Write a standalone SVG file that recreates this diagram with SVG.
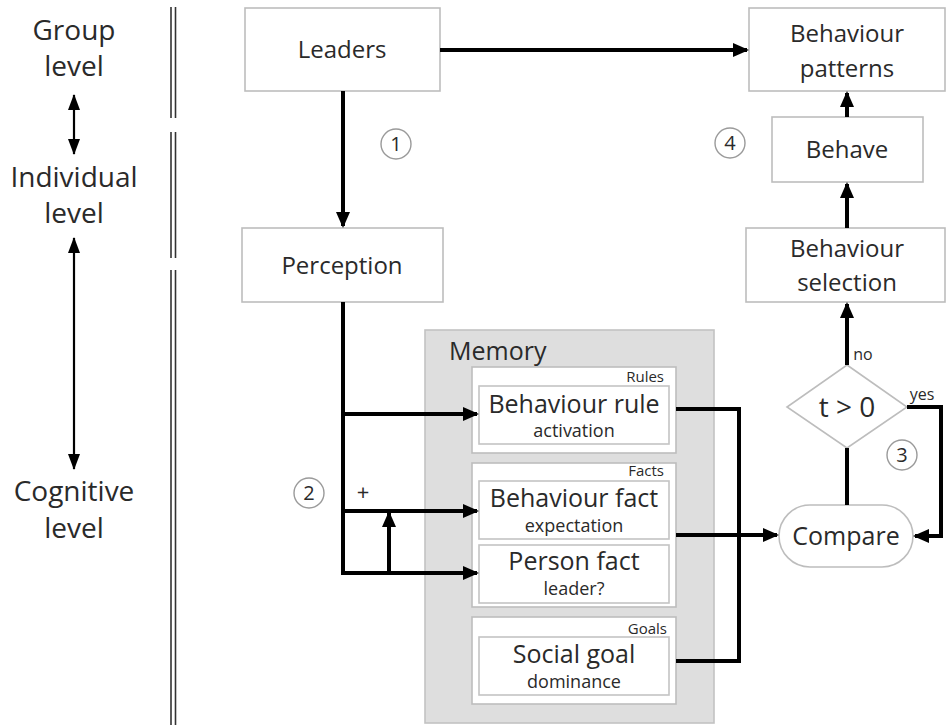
<svg xmlns="http://www.w3.org/2000/svg" width="948" height="725" viewBox="0 0 948 725">
  <defs>
    <marker id="arr" viewBox="0 0 16 14" refX="14" refY="7" markerWidth="16" markerHeight="14" markerUnits="userSpaceOnUse" orient="auto">
      <path d="M0,0 L16,7 L0,14 z" fill="#000"/>
    </marker>
    <marker id="arrS" viewBox="0 0 16 12" refX="15" refY="6" markerWidth="16" markerHeight="12" markerUnits="userSpaceOnUse" orient="auto-start-reverse">
      <path d="M0,0 L16,6 L0,12 z" fill="#000"/>
    </marker>
    <style>
      text { font-family: "Open Sans", "Noto Sans", "DejaVu Sans", sans-serif; fill: #2a2a2a; text-anchor: middle; }
      .box { fill: #fff; stroke: #bdbdbd; stroke-width: 1.6; }
      .inner { fill: #fff; stroke: #c4c4c4; stroke-width: 1.6; }
      .mem { fill: #dedede; stroke: #c2c2c2; stroke-width: 1.6; }
      .lvl { font-size: 28px; }
      .lbl { font-size: 24px; }
      .big { font-size: 25px; }
      .sub { font-size: 18px; }
      .tag { font-size: 15px; text-anchor: end; }
      .num { font-size: 20px; }
      .ring { fill: #fff; stroke: #9a9a9a; stroke-width: 1.4; }
      .wire { fill: none; stroke: #000; stroke-width: 4; }
      .bar { stroke: #333; stroke-width: 1.6; }
      .lvarrow { fill: none; stroke: #000; stroke-width: 2.2; }
    </style>
  </defs>

  <!-- level labels and separators -->
  <g id="levels">
    <text class="lvl" x="74" y="40">Group</text>
    <text class="lvl" x="74" y="76">level</text>
    <text class="lvl" x="74" y="187">Individual</text>
    <text class="lvl" x="74" y="223">level</text>
    <text class="lvl" x="74" y="501">Cognitive</text>
    <text class="lvl" x="74" y="538">level</text>
    <line class="lvarrow" x1="74" y1="95" x2="74" y2="154" marker-start="url(#arrS)" marker-end="url(#arrS)"/>
    <line class="lvarrow" x1="74" y1="238" x2="74" y2="469" marker-start="url(#arrS)" marker-end="url(#arrS)"/>
    <line class="bar" x1="171" y1="7" x2="171" y2="118"/>
    <line class="bar" x1="175.5" y1="7" x2="175.5" y2="118"/>
    <line class="bar" x1="171" y1="132" x2="171" y2="258"/>
    <line class="bar" x1="175.5" y1="132" x2="175.5" y2="258"/>
    <line class="bar" x1="171" y1="270" x2="171" y2="725"/>
    <line class="bar" x1="175.5" y1="270" x2="175.5" y2="725"/>
  </g>

  <!-- memory container -->
  <g id="memory">
    <rect class="mem" x="425" y="330" width="289" height="393"/>
    <text x="449" y="360" style="font-size:25px;text-anchor:start">Memory</text>
  </g>

  <g id="rules">
    <rect class="box" x="472" y="367" width="204" height="86"/>
    <text class="tag" x="664" y="382">Rules</text>
  </g>
  <g id="behaviour-rule">
    <rect class="inner" x="479" y="386" width="190" height="58"/>
    <text class="big" x="574" y="413">Behaviour rule</text>
    <text class="sub" x="574" y="437">activation</text>
  </g>

  <g id="facts">
    <rect class="box" x="472" y="463" width="204" height="144"/>
    <text class="tag" x="664" y="476">Facts</text>
  </g>
  <g id="behaviour-fact">
    <rect class="inner" x="479" y="481" width="190" height="58"/>
    <text class="big" x="574" y="507">Behaviour fact</text>
    <text class="sub" x="574" y="532">expectation</text>
  </g>
  <g id="person-fact">
    <rect class="inner" x="479" y="545" width="190" height="58"/>
    <text class="big" x="574" y="570">Person fact</text>
    <text class="sub" x="574" y="595">leader?</text>
  </g>

  <g id="goals">
    <rect class="box" x="472" y="617" width="204" height="87"/>
    <text class="tag" x="667" y="634">Goals</text>
  </g>
  <g id="social-goal">
    <rect class="inner" x="479" y="637" width="190" height="58"/>
    <text class="big" x="574" y="663">Social goal</text>
    <text class="sub" x="574" y="688">dominance</text>
  </g>

  <!-- upper nodes -->
  <g id="leaders">
    <rect class="box" x="245" y="8" width="195" height="83"/>
    <text class="lbl" x="342" y="58">Leaders</text>
  </g>
  <g id="perception">
    <rect class="box" x="242" y="228" width="201" height="74"/>
    <text class="lbl" x="342" y="274">Perception</text>
  </g>
  <g id="behaviour-patterns">
    <rect class="box" x="749" y="8" width="196" height="83"/>
    <text class="lbl" x="847" y="42">Behaviour</text>
    <text class="lbl" x="847" y="77">patterns</text>
  </g>
  <g id="behave">
    <rect class="box" x="772" y="117" width="151" height="65"/>
    <text class="lbl" x="847" y="158">Behave</text>
  </g>
  <g id="behaviour-selection">
    <rect class="box" x="746" y="228" width="199" height="74"/>
    <text class="lbl" x="847" y="257">Behaviour</text>
    <text class="lbl" x="847" y="291">selection</text>
  </g>
  <g id="threshold">
    <polygon points="847,365 907,407 847,448 787,407" fill="#fff" stroke="#bdbdbd" stroke-width="1.6"/>
    <text x="847" y="417" style="font-size:28px">t &gt; 0</text>
  </g>
  <g id="compare">
    <rect class="box" x="779" y="505" width="134" height="62" rx="31"/>
    <text x="846" y="545" style="font-size:25px">Compare</text>
  </g>

  <!-- step markers -->
  <g id="step1"><circle class="ring" cx="396" cy="144" r="15"/><text class="num" x="396" y="151">1</text></g>
  <g id="step2"><circle class="ring" cx="309" cy="493" r="15"/><text class="num" x="309" y="500">2</text></g>
  <g id="step3"><circle class="ring" cx="902" cy="455" r="15"/><text class="num" x="902" y="462">3</text></g>
  <g id="step4"><circle class="ring" cx="730" cy="143" r="15"/><text class="num" x="730" y="150">4</text></g>

  <!-- connectors -->
  <g id="connectors">
    <path class="wire" d="M440,50 H747" marker-end="url(#arr)"/>
    <path class="wire" d="M343,91 V226" marker-end="url(#arr)"/>
    <path class="wire" d="M847,117 V93" marker-end="url(#arr)"/>
    <path class="wire" d="M847,228 V184" marker-end="url(#arr)"/>
    <path class="wire" d="M847,365 V304" marker-end="url(#arr)"/>
    <path class="wire" d="M847,448 V505"/>
    <path class="wire" d="M907,407 H941 V536 H915" marker-end="url(#arr)"/>
    <path class="wire" d="M343,302 V573 H477" marker-end="url(#arr)"/>
    <path class="wire" d="M343,414 H477" marker-end="url(#arr)"/>
    <path class="wire" d="M343,511 H477" marker-end="url(#arr)"/>
    <path class="wire" d="M389,573 V513" marker-end="url(#arr)"/>
    <path class="wire" d="M676,409 H739 V661 H676"/>
    <path class="wire" d="M676,535 H777" marker-end="url(#arr)"/>
    <text x="363" y="500" style="font-size:22px">+</text>
    <text x="863" y="360" style="font-size:16px">no</text>
    <text x="922" y="400" style="font-size:16px">yes</text>
  </g>
</svg>
